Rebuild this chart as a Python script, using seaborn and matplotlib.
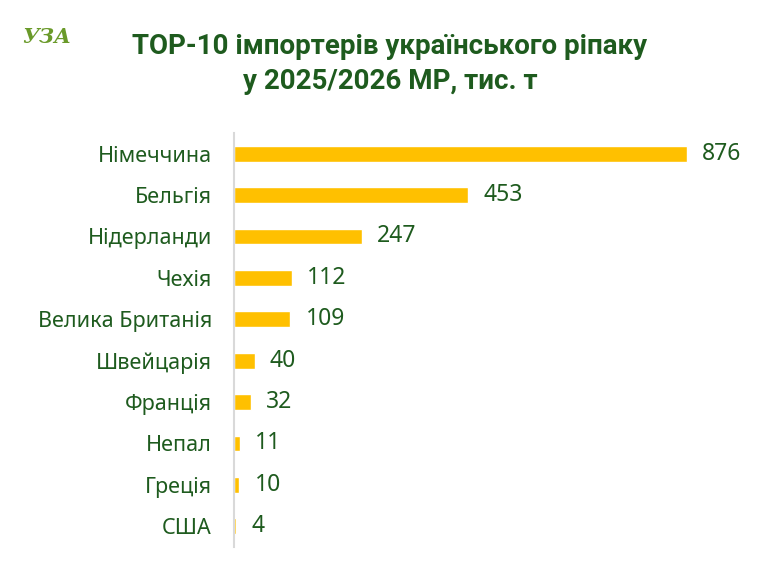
"""ТОР-10 імпортерів українського ріпаку у 2025/2026 МР."""
import matplotlib
matplotlib.use("Agg")
import matplotlib.pyplot as plt
import pandas as pd
import seaborn as sns

COUNTRIES = ["Німеччина", "Бельгія", "Нідерланди", "Чехія", "Велика Британія",
             "Швейцарія", "Франція", "Непал", "Греція", "США"]
VOLUMES = [876, 453, 247, 112, 109, 40, 32, 11, 10, 4]

GREEN = "#1e5b1e"
GOLD = "#FFC000"

sns.set_theme(style="white")
plt.rcParams["font.family"] = ["Noto Sans", "DejaVu Sans"]

df = pd.DataFrame({"country": COUNTRIES, "volume": VOLUMES})

fig = plt.figure(figsize=(7.8, 5.75), dpi=100)
ax = fig.add_axes([0.3, 0.0487, 0.663, 0.72])
sns.barplot(data=df, y="country", x="volume", orient="h", color=GOLD,
            width=0.38, saturation=1, ax=ax)

ax.set_xlim(0, 1000)
ax.set_ylim(9.5, -0.5)
ax.set_xlabel("")
ax.set_ylabel("")
ax.set_xticks([])
for side in ["top", "right", "bottom"]:
    ax.spines[side].set_visible(False)
ax.spines["left"].set_color("#d9d9d9")
ax.spines["left"].set_linewidth(1.5)
ax.tick_params(axis="y", length=0, pad=16, labelsize=15.5, labelcolor=GREEN)

for i, v in enumerate(VOLUMES):
    ax.annotate(f"{v}", xy=(v, i), xytext=(11, 0), textcoords="offset points",
                ha="left", va="center", fontsize=16.5, color=GREEN)

fig.text(0.5, 0.92, "ТОР-10 імпортерів українського ріпаку",
         ha="center", va="center", fontsize=20, fontweight="bold",
         color=GREEN, family=["Roboto", "DejaVu Sans"])
fig.text(0.5, 0.858, "у 2025/2026 МР, тис. т",
         ha="center", va="center", fontsize=20, fontweight="bold",
         color=GREEN, family=["Roboto", "DejaVu Sans"])

# логотип
fig.text(0.028, 0.935, "УЗА", ha="left", va="center", fontsize=15,
         fontweight="bold", fontstyle="italic", color="#6a9a2a",
         family=["DejaVu Serif"])

fig.savefig("out.png", dpi=100)
